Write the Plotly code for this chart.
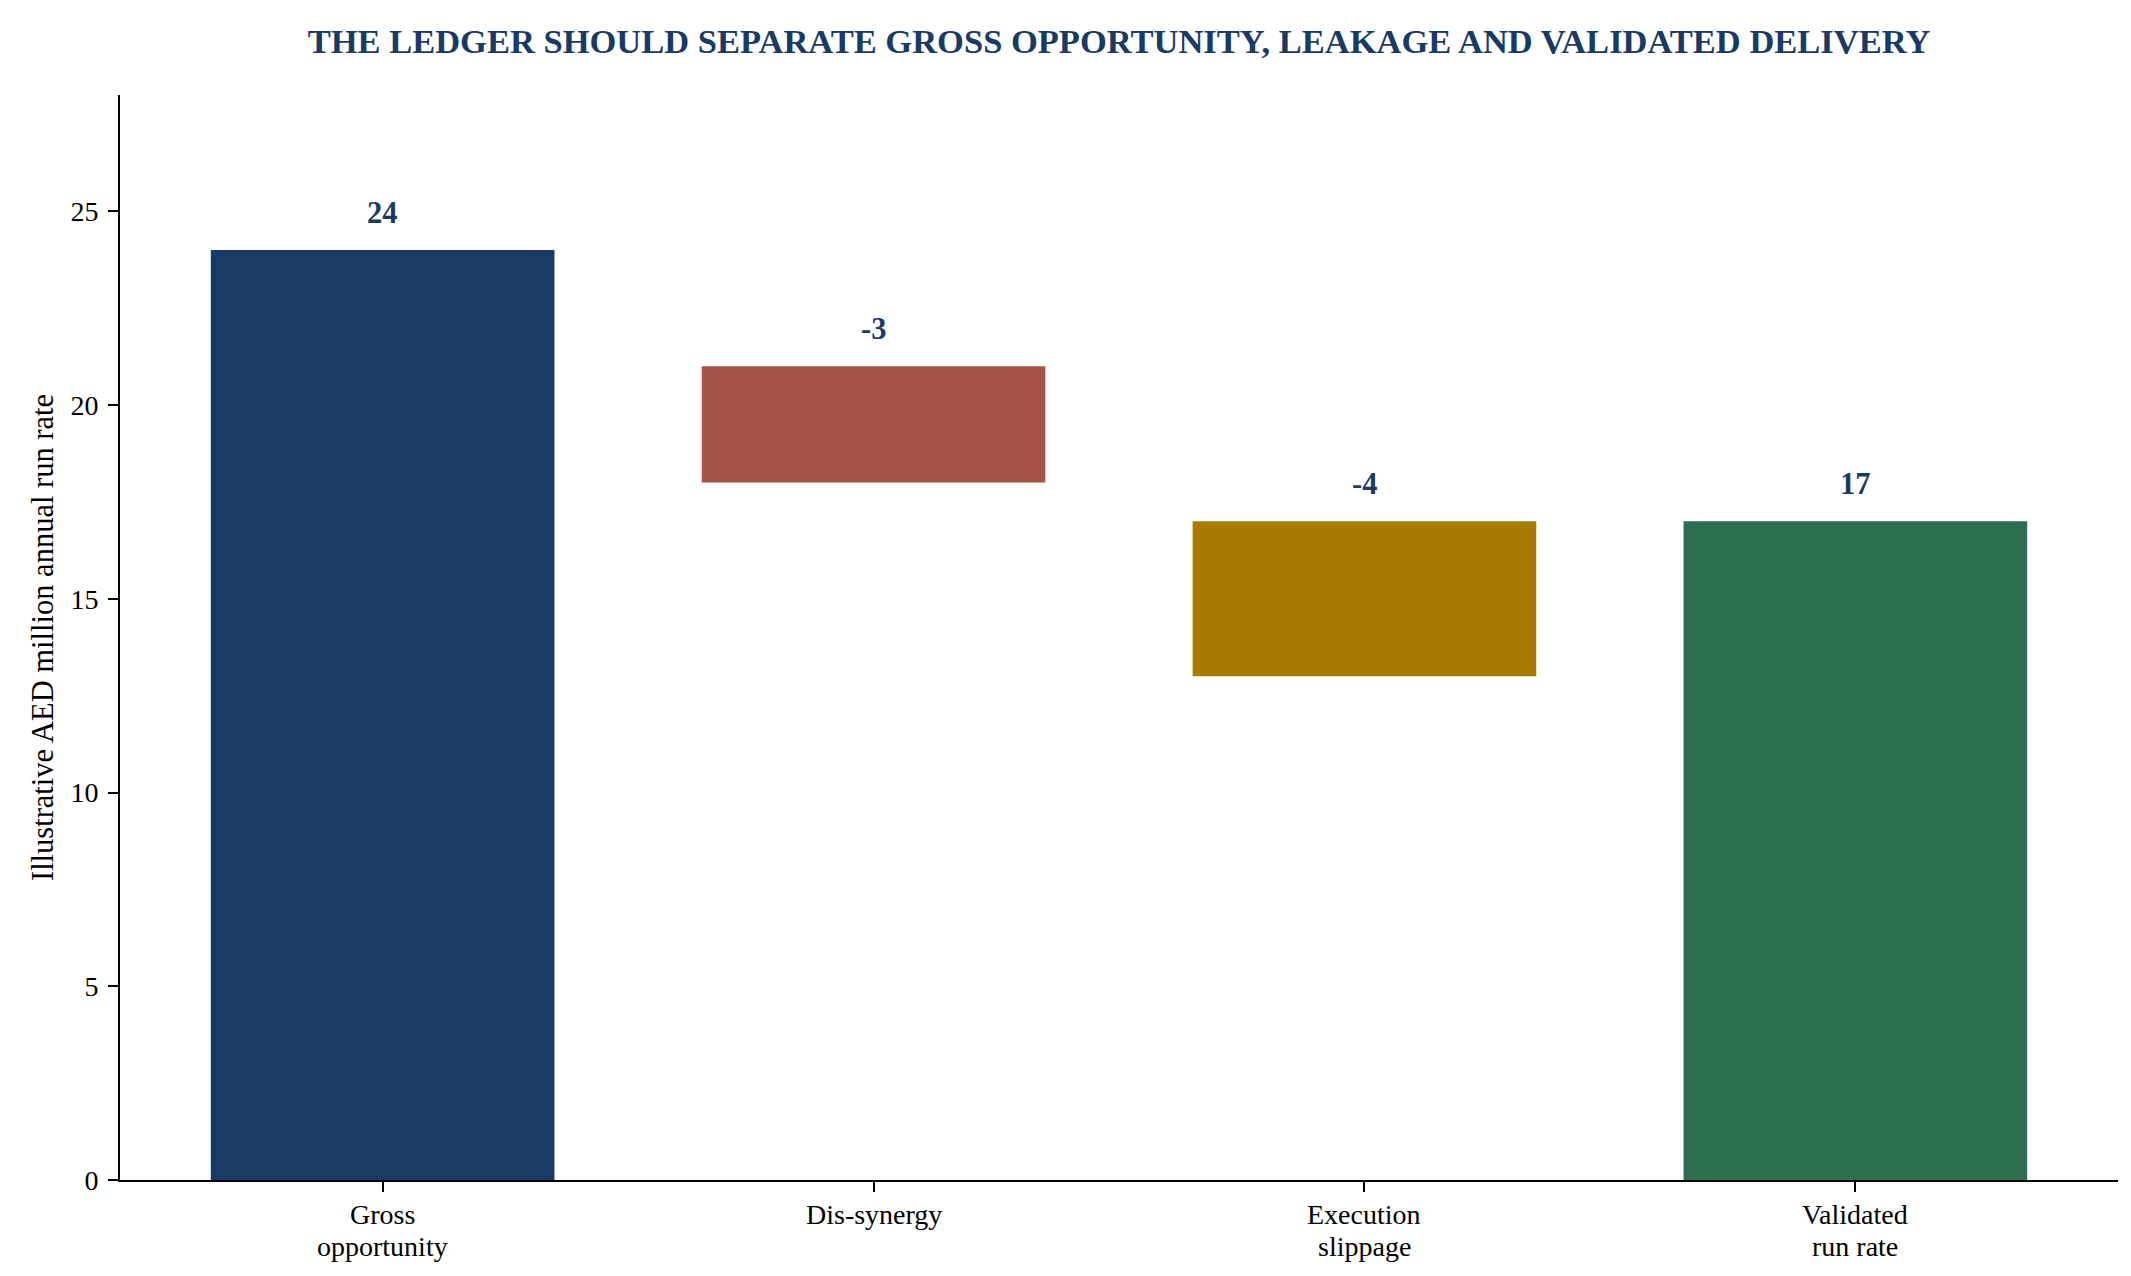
import plotly.graph_objects as go

categories = ["Gross opportunity", "Dis-synergy", "Execution slippage", "Validated run rate"]
tick_lines = [("Gross", "opportunity"), ("Dis-synergy", ""), ("Execution", "slippage"), ("Validated", "run rate")]
values = [24, -3, -4, 17]
bar_bases = [0, 18, 13, 0]
bar_heights = [24, 3, 4, 17]
bar_colors = ["#1a3a66", "#a65246", "#a67b00", "#2e6e50"]
y_ticks = [0, 5, 10, 15, 20, 25]

navy = "#1a3a66"
serif = "Liberation Serif, Times New Roman, serif"

fig = go.Figure(
    go.Bar(
        x=categories,
        y=bar_heights,
        base=bar_bases,
        width=0.7,
        marker=dict(color=bar_colors, line=dict(width=0)),
        hoverinfo="skip",
    )
)

# value labels above each bar
for cat, b, h, v in zip(categories, bar_bases, bar_heights, values):
    fig.add_annotation(
        x=cat, y=b + h, text=f"<b>{v}</b>", showarrow=False,
        yanchor="middle", yshift=37,
        font=dict(family=serif, size=30.5, color=navy),
    )

# category labels drawn line by line (tighter spacing than plotly's <br>)
for cat, (l1, l2) in zip(categories, tick_lines):
    for line, shift in ((l1, -34), (l2, -66)):
        if line:
            fig.add_annotation(
                x=cat, y=0, yref="paper", text=line, showarrow=False,
                yanchor="middle", yshift=shift,
                font=dict(family=serif, size=28, color="black"),
            )

fig.update_layout(
    width=2131,
    height=1276,
    paper_bgcolor="white",
    plot_bgcolor="white",
    margin=dict(l=112, r=21, t=87, b=104),
    showlegend=False,
    font=dict(family=serif, size=28, color="black"),
    title=dict(
        text="<b>THE LEDGER SHOULD SEPARATE GROSS OPPORTUNITY, LEAKAGE AND VALIDATED DELIVERY</b>",
        x=0.5, xref="paper", xanchor="center", y=0.974, yanchor="middle",
        font=dict(family=serif, size=34.5, color=navy),
    ),
)

fig.update_xaxes(
    range=[-0.535, 3.535],
    showline=True, linecolor="black", linewidth=2,
    ticks="outside", ticklen=10, tickwidth=2, tickcolor="black",
    showgrid=False, zeroline=False, showticklabels=False,
)
fig.update_yaxes(
    range=[0, 28],
    tickvals=y_ticks,
    showline=True, linecolor="black", linewidth=2,
    ticks="outside", ticklen=10, tickwidth=2, tickcolor="black",
    ticklabelstandoff=4,
    showgrid=False, zeroline=False,
    tickfont=dict(family=serif, size=28, color="black"),
    title=dict(text="Illustrative AED million annual run rate",
               font=dict(family=serif, size=30.5, color="black"), standoff=8),
)

fig.write_html("out.html")
